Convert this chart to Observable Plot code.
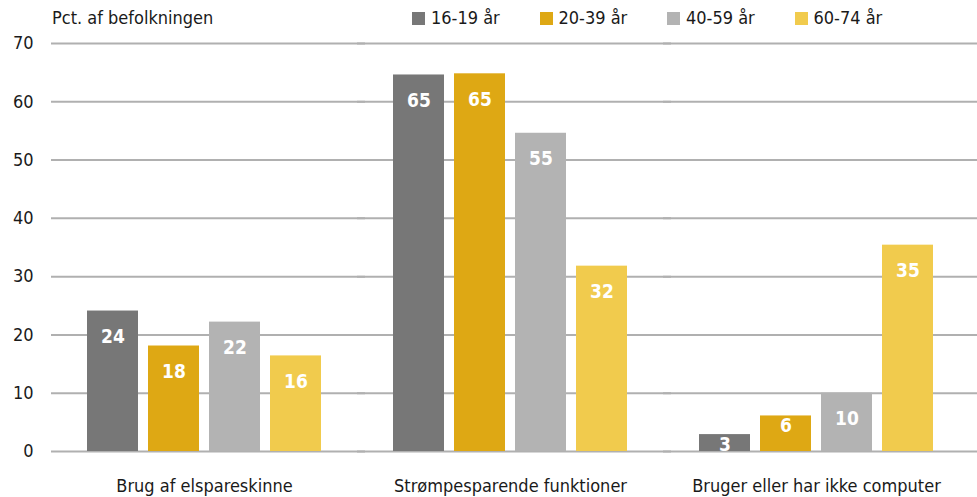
<!DOCTYPE html>
<html><head><meta charset="utf-8">
<script src="https://cdn.jsdelivr.net/npm/d3@7"></script>
<script src="https://cdn.jsdelivr.net/npm/@observablehq/plot@0.6"></script>
<style>
body{margin:0;background:#fff;}
#wrap{position:relative;width:977px;height:497px;font-family:"Liberation Sans Narrow","DejaVu Sans Condensed",sans-serif;color:#1a1a1a;}
#ylab{position:absolute;left:52px;top:7px;font-size:18px;line-height:22px;}
#legend{position:absolute;left:412px;top:7px;display:flex;}
.item{display:flex;align-items:center;width:127.5px;font-size:18px;line-height:22px;}
.sw{width:13px;height:13px;margin-right:6px;flex:none;}
#chart{position:absolute;left:0;top:0;}
</style></head>
<body><div id="wrap"><div id="chart"></div><div id="ylab">Pct. af befolkningen</div><div id="legend"></div></div>
<script>
const categories = ["Brug af elspareskinne", "Strømpesparende funktioner", "Bruger eller har ikke computer"];
const ages = ["16-19 år", "20-39 år", "40-59 år", "60-74 år"];
const v1619 = [24.1, 64.6, 2.9];
const v2039 = [18.1, 64.8, 6.1];
const v4059 = [22.2, 54.6, 10.0];
const v6074 = [16.4, 31.8, 35.4];
const colors = ["#777777", "#dea814", "#b3b3b3", "#f1cb4d"];
const yTicks = [0, 10, 20, 30, 40, 50, 60, 70];

const series = [v1619, v2039, v4059, v6074];
const data = ages.flatMap((a, i) => categories.map((c, j) => ({category: c, age: a, value: series[i][j]})));
const font = '"Liberation Sans Narrow","DejaVu Sans Condensed",sans-serif';

const plot = Plot.plot({
  width: 977, height: 497,
  marginTop: 43, marginBottom: 46, marginLeft: 51, marginRight: 8,
  style: {fontFamily: font, fontSize: "18px", color: "#1a1a1a", background: "transparent"},
  fx: {domain: categories, paddingInner: 0, paddingOuter: 0, label: null, axis: "bottom", tickSize: 0, tickPadding: 28},
  x: {domain: ages, paddingInner: 0.16, paddingOuter: 0.58, axis: null},
  y: {domain: [0, 70], ticks: yTicks, tickSize: 0, tickPadding: 18, label: null},
  color: {domain: ages, range: colors},
  marks: [
    Plot.ruleY(yTicks, {stroke: "#b0b0b0", strokeWidth: 2, insetRight: -8}),
    Plot.barY(data, {fx: "category", x: "age", y: "value", fill: "age"}),
    Plot.text(data, {
      fx: "category", x: "age",
      y: d => d.value >= 8 ? d.value - 4.4 : d.value - 1.7,
      text: d => d3.format(".0f")(d.value),
      fill: "white", fontWeight: "bold", fontSize: 19
    })
  ]
});
document.getElementById("chart").appendChild(plot);

const legend = document.getElementById("legend");
ages.forEach((a, i) => {
  const it = document.createElement("div");
  it.className = "item";
  const sw = document.createElement("span");
  sw.className = "sw";
  sw.style.background = colors[i];
  const t = document.createElement("span");
  t.textContent = a;
  it.appendChild(sw); it.appendChild(t);
  legend.appendChild(it);
});
</script>
</body></html>
